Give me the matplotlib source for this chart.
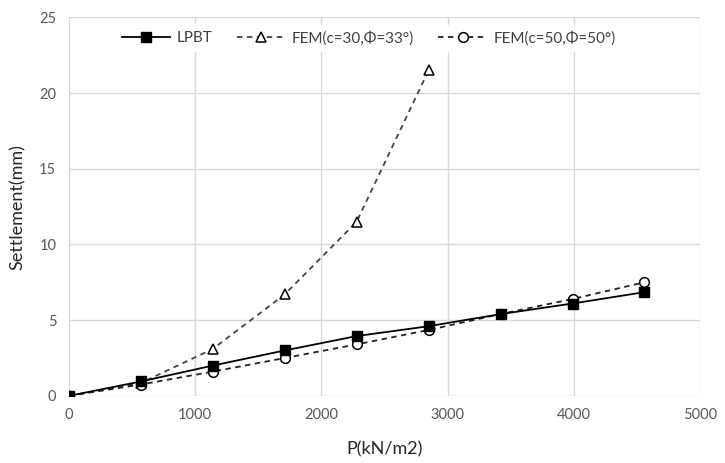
import matplotlib.pyplot as plt

# applied pressure steps (kN/m2)
pressure = [0, 570, 1140, 1710, 2280, 2850, 3420, 3990, 4560]
pressure_fem30 = [0, 570, 1140, 1710, 2280, 2850]

# settlement (mm)
lpbt = [0, 0.95, 2.0, 3.0, 3.95, 4.6, 5.4, 6.1, 6.85]
fem_c30 = [0, 0.85, 3.1, 6.7, 11.5, 21.5]
fem_c50 = [0, 0.75, 1.6, 2.5, 3.4, 4.35, 5.4, 6.4, 7.5]

labels = ["LPBT", "FEM(c=30,\u03a6=33\u00b0)", "FEM(c=50,\u03a6=50\u00b0)"]

plt.rcParams['font.family'] = ['Lato', 'DejaVu Sans']

fig = plt.figure(figsize=(7.25, 4.63), dpi=100)
ax = fig.add_axes([0.095, 0.145, 0.8705, 0.8175])

ax.plot(pressure, lpbt, color='black', lw=1.3, marker='s', ms=7,
        mfc='black', mec='black', label=labels[0], zorder=4)
ax.plot(pressure_fem30, fem_c30, color='#444444', lw=1.3, ls=(0, (3, 2.5)),
        marker='^', ms=6.5, mfc='white', mec='black', mew=1.1,
        label=labels[1], zorder=3)
ax.plot(pressure, fem_c50, color='#222222', lw=1.3, ls=(0, (3, 2.5)),
        marker='o', ms=7, mfc='white', mec='black', mew=1.1,
        label=labels[2], zorder=3)

ax.set_xlim(0, 5000)
ax.set_ylim(0, 25)
ax.set_xticks(range(0, 5001, 1000))
ax.set_yticks(range(0, 26, 5))
ax.grid(True, color='#d9d9d9', lw=1)
ax.set_axisbelow(True)
for s in ax.spines.values():
    s.set_visible(False)
ax.tick_params(length=0, labelsize=10.5, labelcolor='#595959', pad=9)

ax.set_xlabel("P(kN/m2)", fontsize=13, color='#262626', labelpad=14)
ax.set_ylabel("Settlement(mm)", fontsize=13, color='#262626', labelpad=10)

leg = ax.legend(loc='upper center', ncol=3, frameon=True, fontsize=11,
                bbox_to_anchor=(0.475, 0.985), handlelength=3.2, columnspacing=1.6,
                handletextpad=0.4, borderaxespad=0.1)
leg.get_frame().set_edgecolor('white')
leg.get_frame().set_facecolor('white')
leg.get_frame().set_alpha(1)
for t in leg.get_texts():
    t.set_color('#404040')

fig.savefig("out.png", dpi=100)
